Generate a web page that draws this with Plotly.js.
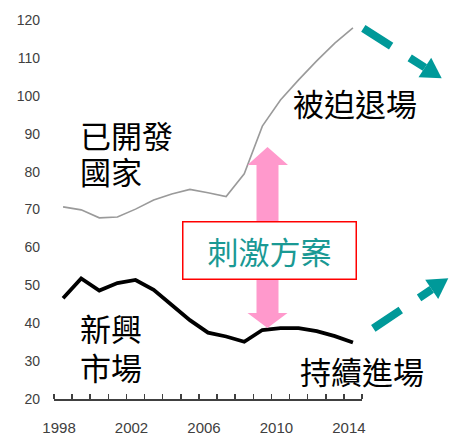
<!DOCTYPE html>
<html>
<head>
<meta charset="utf-8">
<script src="https://cdn.plot.ly/plotly-3.0.1.min.js"></script>
<style>html,body{margin:0;padding:0;background:#fff;}#chart{width:454px;height:434px;}</style>
</head>
<body>
<div id="chart"></div>
<script>
// ---- data ----
var years = [1998,1999,2000,2001,2002,2003,2004,2005,2006,2007,2008,2009,2010,2011,2012,2013,2014];
var developed = [70.7,69.9,67.8,68.0,70.1,72.5,74.1,75.3,74.4,73.4,79.4,92.0,98.9,104.2,109.2,113.9,117.9];
var emerging  = [46.6,51.8,48.6,50.6,51.4,48.8,44.8,40.8,37.5,36.5,35.1,38.2,38.7,38.7,37.9,36.6,34.9];
var xTickVals = [1998,2002,2006,2010,2014];
var xTickText = ['1998','2002','2006','2010','2014'];
var yTickVals = [20,30,40,50,60,70,80,90,100,110,120];
var labelDeveloped = ['已開發','國家'];
var labelEmerging = ['新興','市場'];
var labelExit = '被迫退場';
var labelEnter = '持續進場';
var labelStimulus = '刺激方案';

// ---- layout helpers (pixel -> paper) ----
var W = 454, H = 434, ML = 54, MR = 92, MT = 20, MB = 35;
var PW = W - ML - MR, PH = H - MT - MB;
function px(x){ return (x - ML) / PW; }
function py(y){ return (H - MB - y) / PH; }
function path(pts){
  return 'M' + pts.map(function(p){ return px(p[0]) + ',' + py(p[1]); }).join(' L') + ' Z';
}
var cjk = '"Noto Sans CJK TC", "Noto Sans CJK SC", sans-serif';
var teal = '#009999', pink = '#FF99CC';

var traces = [
  {x: years, y: developed, type: 'scatter', mode: 'lines', line: {color: '#9a9a9a', width: 1.6}, hoverinfo: 'skip'},
  {x: years, y: emerging, type: 'scatter', mode: 'lines', line: {color: '#000000', width: 3.8}, hoverinfo: 'skip'}
];

var shapes = [
  // pink double arrow
  {type: 'path', xref: 'paper', yref: 'paper', fillcolor: pink, line: {width: 0},
   path: path([[267.5,147],[288,165],[278.5,165],[278.5,313],[287.5,313],[267.5,328],[247.5,313],[256.5,313],[256.5,165],[247.5,165]])},
  // teal dashed arrow (top)
  {type: 'line', xref: 'paper', yref: 'paper', x0: px(363.3), y0: py(28.3), x1: px(424.9), y1: py(67.5),
   line: {color: teal, width: 8, dash: '33px,22px'}},
  {type: 'path', xref: 'paper', yref: 'paper', fillcolor: teal, line: {width: 0},
   path: path([[441.7,78.3],[418.5,77.2],[431.2,57.8]])},
  // teal dashed arrow (bottom)
  {type: 'line', xref: 'paper', yref: 'paper', x0: px(373.3), y0: py(328.3), x1: px(431.7), y1: py(289.4),
   line: {color: teal, width: 8, dash: '33px,22px'}},
  {type: 'path', xref: 'paper', yref: 'paper', fillcolor: teal, line: {width: 0},
   path: path([[448.3,278.3],[438.2,299.0],[425.2,279.8]])}
];

function label(text, x, y, anchor){
  return {xref: 'paper', yref: 'paper', x: px(x), y: py(y), xanchor: anchor, yanchor: 'middle',
          text: text, showarrow: false, font: {family: cjk, size: 31, color: '#000'}};
}

var annotations = [
  label(labelDeveloped[0], 78, 134, 'left'),
  label(labelDeveloped[1], 78, 171, 'left'),
  label(labelEmerging[0], 78, 327.5, 'left'),
  label(labelEmerging[1], 78, 366.7, 'left'),
  label(labelExit, 355, 103, 'center'),
  label(labelEnter, 361.7, 370, 'center'),
  {xref: 'paper', yref: 'paper', x: px(269.2), y: py(250.3), xanchor: 'center', yanchor: 'middle',
   text: labelStimulus, showarrow: false, font: {family: cjk, size: 31, color: '#1a9994'},
   bgcolor: '#ffffff', bordercolor: '#ff0000', borderwidth: 1.5, borderpad: 0, width: 172, height: 56}
];

var layout = {
  width: W, height: H,
  margin: {l: ML, r: MR, t: MT, b: MB, pad: 0},
  paper_bgcolor: '#ffffff', plot_bgcolor: '#ffffff',
  showlegend: false,
  font: {family: '"Liberation Sans", Arial, sans-serif', color: '#404040'},
  xaxis: {
    range: [1997.5, 2014.5], showgrid: false, zeroline: false,
    showline: true, linecolor: '#404040', linewidth: 1.5,
    tickmode: 'array', tickvals: xTickVals, ticktext: xTickText,
    ticks: '', ticklabelstandoff: 14, ticklabelshift: -4,
    tickfont: {size: 15, color: '#404040'},
    minor: {ticks: 'inside', tickmode: 'linear', tick0: 1997.5, dtick: 1, ticklen: 5, tickwidth: 1.5, tickcolor: '#404040', showgrid: false}
  },
  yaxis: {
    range: [20, 120], showgrid: false, zeroline: false, showline: false,
    tickmode: 'array', tickvals: yTickVals, ticks: '',
    ticklabelstandoff: 13,
    tickfont: {size: 14, color: '#404040'}
  },
  shapes: shapes,
  annotations: annotations
};

Plotly.newPlot('chart', traces, layout, {staticPlot: true, displayModeBar: false});
</script>
</body>
</html>
